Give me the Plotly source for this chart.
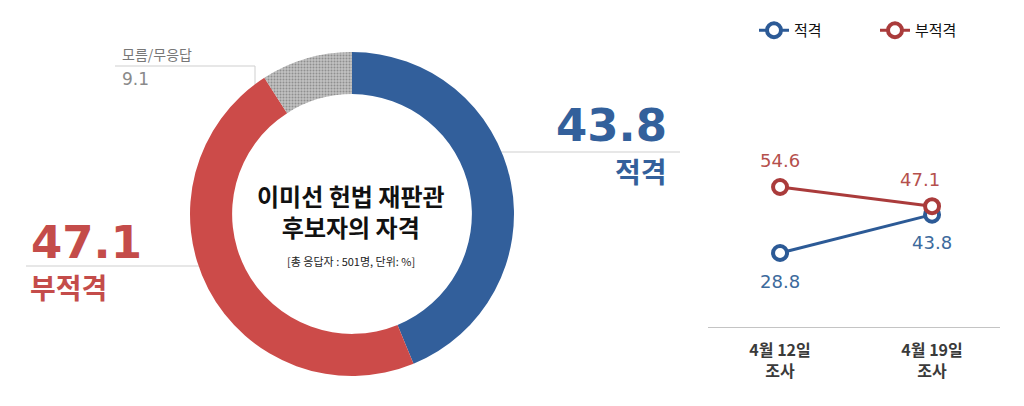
import plotly.graph_objects as go

# 도넛 차트 데이터
pie_labels = ["적격", "부적격", "모름/무응답"]
pie_values = [43.8, 47.1, 9.1]
pie_colors = ["#325f9b", "#cc4b49", "#c2c2c2"]

# 추이 차트 데이터
survey_dates = ["4월 12일<br>조사", "4월 19일<br>조사"]
fit_values = [28.8, 43.8]
unfit_values = [54.6, 47.1]

FONT = "Noto Sans CJK KR"
NUM_FONT = "DejaVu Sans"
BLUE = "#2c5a96"
RED = "#aa3b3b"
BLUE_TXT = "#3c6a9c"
RED_TXT = "#b5504c"

fig = go.Figure()

# 도넛
fig.add_trace(go.Pie(
    labels=pie_labels, values=pie_values, sort=False, direction="clockwise",
    rotation=0, hole=0.74, textinfo="none", hoverinfo="label+value",
    marker=dict(colors=pie_colors, line=dict(width=0),
                pattern=dict(shape=["", "", "."], fillmode="overlay", fgcolor="#7a7a7a",
                             fgopacity=0.7, size=3, solidity=0.35)),
    domain=dict(x=[190 / 1024, 514 / 1024], y=[30 / 406, 354 / 406]),
    showlegend=False,
))

# 추이 선
for name, vals, col in [("적격", fit_values, BLUE), ("부적격", unfit_values, RED)]:
    fig.add_trace(go.Scatter(
        x=survey_dates, y=vals, name=name, mode="lines+markers",
        line=dict(color=col, width=3),
        marker=dict(symbol="circle", size=14, color="white", line=dict(color=col, width=4)),
        xaxis="x2", yaxis="y2",
    ))

annotations = [
    # 가운데 제목
    dict(x=351, y=211, text="<b>이미선 헌법 재판관<br>후보자의 자격</b>",
         font=dict(family=FONT, size=24, color="#111"), showarrow=False),
    dict(x=351, y=261, text="[총 응답자 : 501명, 단위: %]",
         font=dict(family=FONT, size=11, color="#222"), showarrow=False),
    # 적격
    dict(x=669, y=125, text=f"{pie_values[0]}", xanchor="right",
         font=dict(family=NUM_FONT, size=45, color="#33609b", weight="bold"), showarrow=False),
    dict(x=669, y=171, text=f"<b>{pie_labels[0]}</b>", xanchor="right",
         font=dict(family=FONT, size=28, color="#33609b"), showarrow=False),
    # 부적격
    dict(x=29, y=242, text=f"{pie_values[1]}", xanchor="left",
         font=dict(family=NUM_FONT, size=45, color="#c44c4a", weight="bold"), showarrow=False),
    dict(x=28, y=287, text=f"<b>{pie_labels[1]}</b>", xanchor="left",
         font=dict(family=FONT, size=28, color="#c44c4a"), showarrow=False),
    # 모름/무응답
    dict(x=120, y=54, text=pie_labels[2], xanchor="left",
         font=dict(family=FONT, size=14, color="#777"), showarrow=False),
    dict(x=120, y=79, text=f"{pie_values[2]}", xanchor="left",
         font=dict(family=NUM_FONT, size=17, color="#8a8a8a"), showarrow=False),
]
for a in annotations:
    a["xref"] = "x"
    a["yref"] = "y"

# 추이 차트 값 레이블
for i, d in enumerate(survey_dates):
    annotations.append(dict(x=d, y=unfit_values[i], xref="x2", yref="y2", showarrow=False,
                            text=f"{unfit_values[i]}", yshift=27, xshift=-12 * i,
                            font=dict(family=NUM_FONT, size=18, color=RED_TXT)))
    annotations.append(dict(x=d, y=fit_values[i], xref="x2", yref="y2", showarrow=False,
                            text=f"{fit_values[i]}", yshift=-28,
                            font=dict(family=NUM_FONT, size=18, color=BLUE_TXT)))

shapes = [
    dict(type="line", x0=500, x1=680, y0=152, y1=152, line=dict(color="#cfcfcf", width=1)),
    dict(type="line", x0=26, x1=200, y0=266, y1=266, line=dict(color="#cfcfcf", width=1)),
    dict(type="path", path="M 115 66 L 255 66 L 255 85", line=dict(color="#cfcfcf", width=1)),
]
for s in shapes:
    s["xref"] = "x"
    s["yref"] = "y"
    s["layer"] = "below"

fig.update_layout(
    width=1024, height=406,
    margin=dict(l=0, r=0, t=0, b=0, autoexpand=False),
    paper_bgcolor="white", plot_bgcolor="rgba(0,0,0,0)",
    font=dict(family=FONT),
    # 주석용 픽셀 좌표 축 (위에서부터)
    xaxis=dict(range=[0, 1024], domain=[0, 1], visible=False, fixedrange=True),
    yaxis=dict(range=[406, 0], domain=[0, 1], visible=False, fixedrange=True),
    xaxis2=dict(domain=[708 / 1024, 1000 / 1024], anchor="y2", type="category",
                range=[-0.474, 1.447], showline=True, linecolor="#c4c4c4", linewidth=1,
                showgrid=False, zeroline=False, ticks="outside", ticklen=9,
                tickcolor="rgba(0,0,0,0)",
                tickfont=dict(family=FONT, size=16, color="#3a3a3a", weight="bold")),
    yaxis2=dict(domain=[79 / 406, 366 / 406], anchor="x2", range=[-0.13, 112.07],
                visible=False),
    legend=dict(orientation="h", x=754 / 1024, xanchor="left", y=0.9655, yanchor="top",
                font=dict(family=FONT, size=15, color="#111"),
                entrywidth=76, entrywidthmode="pixels", itemwidth=30,
                bgcolor="rgba(0,0,0,0)"),
    annotations=annotations,
    shapes=shapes,
)

fig.write_html("out.html", config={"displayModeBar": False},
               post_script="document.body.style.margin='0';")
